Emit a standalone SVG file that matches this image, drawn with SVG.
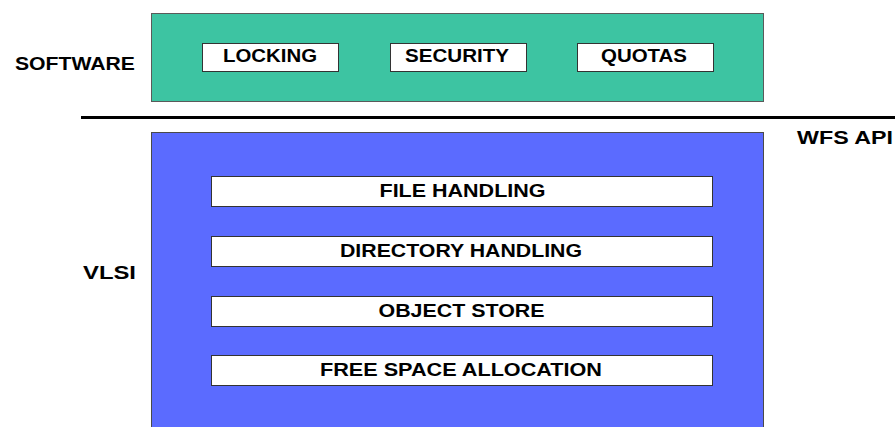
<svg xmlns="http://www.w3.org/2000/svg" width="895" height="427" viewBox="0 0 895 427">
  <style>
    .lbl { font-family: "Liberation Sans", Arial, sans-serif; font-weight: bold; font-size: 18px; fill: #000; }
    .layer-sw { fill: #3dc4a2; stroke: #5a5a5a; stroke-width: 1; }
    .layer-hw { fill: #5b6bff; stroke: #4a4a4a; stroke-width: 1; }
    .box { fill: #fff; stroke: #333; stroke-width: 1; }
  </style>

  <!-- side labels -->
  <text class="lbl" x="15" y="70" textLength="120" lengthAdjust="spacingAndGlyphs">SOFTWARE</text>
  <text class="lbl" x="83" y="278.5" textLength="53" lengthAdjust="spacingAndGlyphs">VLSI</text>
  <text class="lbl" x="797" y="144" textLength="96" lengthAdjust="spacingAndGlyphs">WFS API</text>

  <!-- software layer -->
  <g id="software">
    <rect class="layer-sw" x="151.5" y="13.5" width="612" height="88"/>
  </g>
  <g id="locking">
    <rect class="box" x="202.5" y="43.5" width="136" height="28"/>
    <text class="lbl" x="223" y="62" textLength="94" lengthAdjust="spacingAndGlyphs">LOCKING</text>
  </g>
  <g id="security">
    <rect class="box" x="390.5" y="43.5" width="136" height="28"/>
    <text class="lbl" x="405" y="62" textLength="104" lengthAdjust="spacingAndGlyphs">SECURITY</text>
  </g>
  <g id="quotas">
    <rect class="box" x="577.5" y="43.5" width="136" height="28"/>
    <text class="lbl" x="601" y="62" textLength="86" lengthAdjust="spacingAndGlyphs">QUOTAS</text>
  </g>

  <!-- API boundary -->
  <g id="connectors">
    <line x1="81" y1="117.5" x2="895" y2="117.5" stroke="#000" stroke-width="3"/>
  </g>

  <!-- hardware layer -->
  <g id="vlsi">
    <rect class="layer-hw" x="151.5" y="132.5" width="612" height="310"/>
  </g>
  <g id="file-handling">
    <rect class="box" x="211.5" y="176.5" width="501" height="30"/>
    <text class="lbl" x="379.5" y="197" textLength="166" lengthAdjust="spacingAndGlyphs">FILE HANDLING</text>
  </g>
  <g id="directory-handling">
    <rect class="box" x="211.5" y="236.5" width="501" height="30"/>
    <text class="lbl" x="340" y="257" textLength="242" lengthAdjust="spacingAndGlyphs">DIRECTORY HANDLING</text>
  </g>
  <g id="object-store">
    <rect class="box" x="211.5" y="296.5" width="501" height="30"/>
    <text class="lbl" x="378.5" y="317" textLength="166" lengthAdjust="spacingAndGlyphs">OBJECT STORE</text>
  </g>
  <g id="free-space-allocation">
    <rect class="box" x="211.5" y="355.5" width="501" height="30"/>
    <text class="lbl" x="320" y="376" textLength="282" lengthAdjust="spacingAndGlyphs">FREE SPACE ALLOCATION</text>
  </g>
</svg>
